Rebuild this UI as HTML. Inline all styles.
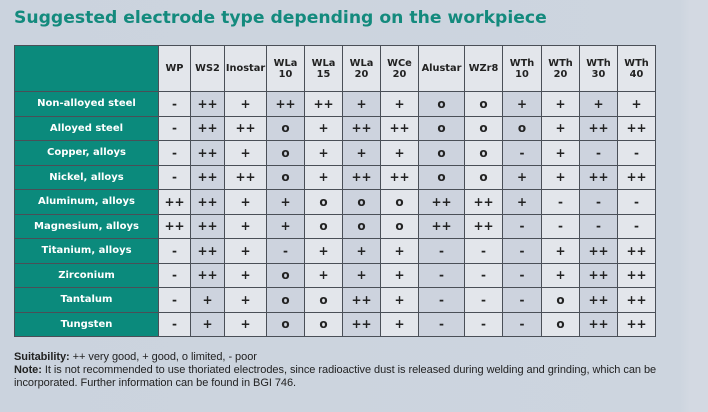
<!DOCTYPE html>
<html><head><meta charset="utf-8"><style>
html,body{margin:0;padding:0}
body{width:708px;height:412px;background:linear-gradient(90deg,#cbd3de 0,#cdd5df 680px,#d3d9e2 690px,#d3d9e2 708px);position:relative;overflow:hidden;font-family:"Liberation Sans","DejaVu Sans",sans-serif}
h1{position:absolute;left:14px;top:8px;margin:0;font-size:17.2px;font-weight:bold;color:#138a7d;letter-spacing:0;font-family:"DejaVu Sans","Liberation Sans",sans-serif}
table{position:absolute;left:14px;top:45px;border-collapse:collapse;table-layout:fixed}
td,th{border:1.5px solid #4a4f57;text-align:center;padding:0;font-size:12px;font-weight:bold;color:#222;font-family:"DejaVu Sans","Liberation Sans",sans-serif}
th{background:#e3e6eb;height:45px;font-size:9.8px;line-height:11px}
td{height:23px;background:#e3e6eb}
tr.r td{height:23.5px}
td.d{background:#cdd3de}
.rh{background:#0b8a7c!important;color:#fff;font-size:10px!important}
th.rh{background:#0b8a7c}
.f{position:absolute;left:14px;font-size:11px;color:#222;font-family:"Liberation Sans Narrow","Liberation Sans",sans-serif;letter-spacing:-0.05px;white-space:nowrap}
</style></head><body>
<h1>Suggested electrode type depending on the workpiece</h1>
<table>
<colgroup><col style="width:144px"><col style="width:32px"><col style="width:34px"><col style="width:42px"><col style="width:38px"><col style="width:38px"><col style="width:38px"><col style="width:38px"><col style="width:46px"><col style="width:38px"><col style="width:39px"><col style="width:38px"><col style="width:38px"><col style="width:38px"></colgroup>
<tr><th class="rh"></th><th>WP</th><th>WS2</th><th>Inostar</th><th>WLa<br>10</th><th>WLa<br>15</th><th>WLa<br>20</th><th>WCe<br>20</th><th>Alustar</th><th>WZr8</th><th>WTh<br>10</th><th>WTh<br>20</th><th>WTh<br>30</th><th>WTh<br>40</th></tr>
<tr class="r"><td class="rh">Non-alloyed steel</td><td>-</td><td class="d">++</td><td>+</td><td class="d">++</td><td>++</td><td class="d">+</td><td>+</td><td class="d">o</td><td>o</td><td class="d">+</td><td>+</td><td class="d">+</td><td>+</td></tr>
<tr class="r"><td class="rh">Alloyed steel</td><td>-</td><td class="d">++</td><td>++</td><td class="d">o</td><td>+</td><td class="d">++</td><td>++</td><td class="d">o</td><td>o</td><td class="d">o</td><td>+</td><td class="d">++</td><td>++</td></tr>
<tr class="r"><td class="rh">Copper, alloys</td><td>-</td><td class="d">++</td><td>+</td><td class="d">o</td><td>+</td><td class="d">+</td><td>+</td><td class="d">o</td><td>o</td><td class="d">-</td><td>+</td><td class="d">-</td><td>-</td></tr>
<tr class="r"><td class="rh">Nickel, alloys</td><td>-</td><td class="d">++</td><td>++</td><td class="d">o</td><td>+</td><td class="d">++</td><td>++</td><td class="d">o</td><td>o</td><td class="d">+</td><td>+</td><td class="d">++</td><td>++</td></tr>
<tr class="r"><td class="rh">Aluminum, alloys</td><td>++</td><td class="d">++</td><td>+</td><td class="d">+</td><td>o</td><td class="d">o</td><td>o</td><td class="d">++</td><td>++</td><td class="d">+</td><td>-</td><td class="d">-</td><td>-</td></tr>
<tr class="r"><td class="rh">Magnesium, alloys</td><td>++</td><td class="d">++</td><td>+</td><td class="d">+</td><td>o</td><td class="d">o</td><td>o</td><td class="d">++</td><td>++</td><td class="d">-</td><td>-</td><td class="d">-</td><td>-</td></tr>
<tr class="r"><td class="rh">Titanium, alloys</td><td>-</td><td class="d">++</td><td>+</td><td class="d">-</td><td>+</td><td class="d">+</td><td>+</td><td class="d">-</td><td>-</td><td class="d">-</td><td>+</td><td class="d">++</td><td>++</td></tr>
<tr class="r"><td class="rh">Zirconium</td><td>-</td><td class="d">++</td><td>+</td><td class="d">o</td><td>+</td><td class="d">+</td><td>+</td><td class="d">-</td><td>-</td><td class="d">-</td><td>+</td><td class="d">++</td><td>++</td></tr>
<tr class="r"><td class="rh">Tantalum</td><td>-</td><td class="d">+</td><td>+</td><td class="d">o</td><td>o</td><td class="d">++</td><td>+</td><td class="d">-</td><td>-</td><td class="d">-</td><td>o</td><td class="d">++</td><td>++</td></tr>
<tr class="r"><td class="rh">Tungsten</td><td>-</td><td class="d">+</td><td>+</td><td class="d">o</td><td>o</td><td class="d">++</td><td>+</td><td class="d">-</td><td>-</td><td class="d">-</td><td>o</td><td class="d">++</td><td>++</td></tr>
</table>
<div class="f" style="top:351px"><b>Suitability:</b> ++ very good, + good, o limited, - poor</div>
<div class="f" style="top:364px"><b>Note:</b> It is not recommended to use thoriated electrodes, since radioactive dust is released during welding and grinding, which can be</div>
<div class="f" style="top:377px">incorporated. Further information can be found in BGI 746.</div>
</body></html>
